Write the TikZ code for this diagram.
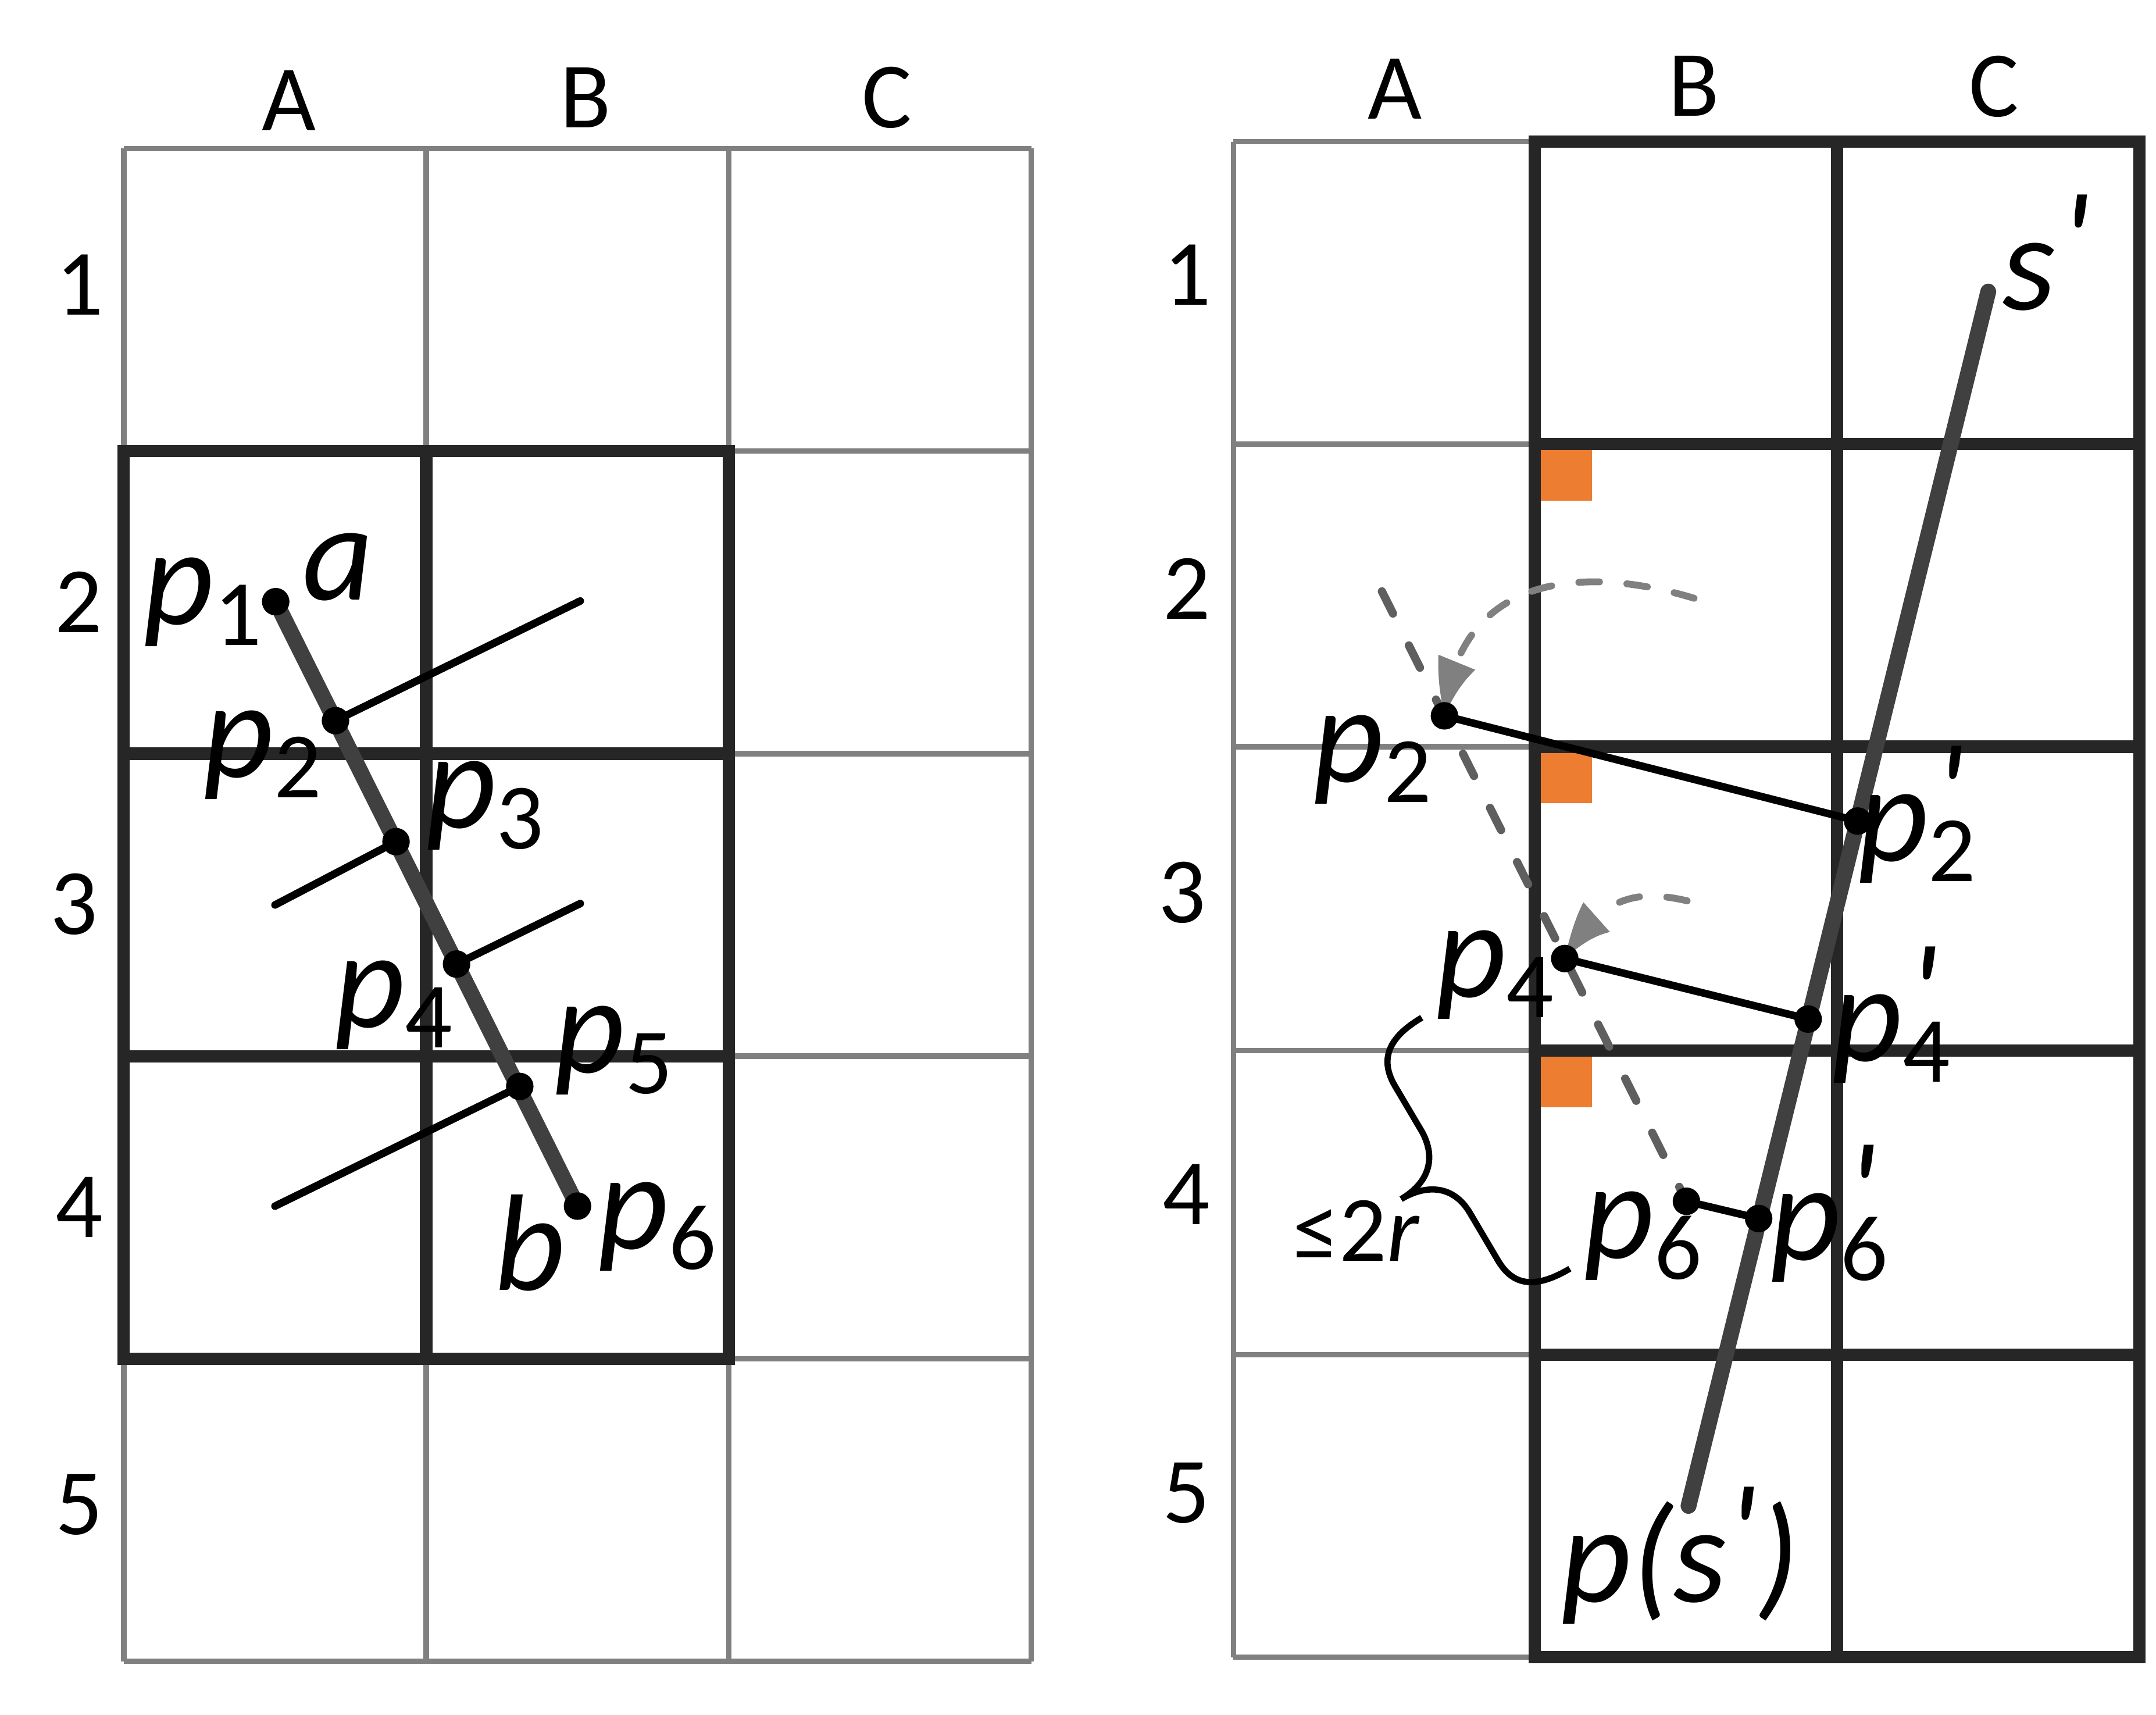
\documentclass[tikz,border=0pt]{standalone}
\usepackage{fontspec}
\setmainfont{Carlito}
\newfontfamily\prfont{Carlito}[Ligatures=TeXOff]
\usetikzlibrary{arrows.meta,bending}
\definecolor{thickc}{HTML}{262626}
\definecolor{thinc}{HTML}{808080}
\definecolor{segc}{HTML}{404040}
\definecolor{dashc}{HTML}{5F5F5F}
\definecolor{orangec}{HTML}{ED7D31}
\newcommand\bigf{\fontsize{100}{100}\selectfont}
\newcommand\labf{\fontsize{68}{68}\selectfont}
\newcommand\prm{\raisebox{16pt}{\prfont\itshape '}}
\newcommand\pv[1]{{\bigf\itshape p}\raisebox{-15pt}{\labf #1}}
\newcommand\pvp[1]{{\bigf\itshape p}\rlap{\bigf\kern4pt\prm}\raisebox{-15pt}{\labf #1}}
\begin{document}
\begin{tikzpicture}[x=1pt,y=-1pt,
  thinline/.style={draw=thinc,line width=4pt},
  thickline/.style={draw=thickc,line width=9pt},
  segline/.style={draw=segc,line width=11.5pt,line cap=round},
  blackline/.style={draw=black,line width=5.5pt,line cap=round},
  dot/.style={fill=black},
  dashline/.style={draw=dashc,line width=6pt,line cap=round,dash pattern=on 18pt off 26pt},
  curvearrow/.style={draw=thinc,line width=5pt,line cap=round,dash pattern=on 15pt off 20pt,
    -{Triangle[length=44pt,width=29pt,line width=0pt,bend]}},
  lab/.style={inner sep=0pt,font=\labf},
  var/.style={inner sep=0pt,anchor=base west}]
\fill[white] (0,0) rectangle (1568,1247);
\useasboundingbox (0,0) rectangle (1568,1247);
% ---------- left grid ----------
\foreach \x in {90,310,530,750} \draw[thinline] (\x,108) -- (\x,1208);
\foreach \y in {108,328,548,768,988,1208} \draw[thinline] (90,\y) -- (750,\y);
\draw[thickline] (90,328) rectangle (530,988);
\draw[thickline] (310,328) -- (310,988);
\foreach \y in {548,768} \draw[thickline] (90,\y) -- (530,\y);
% labels
\node[lab] (lA) at (210,73) {A};
\node[lab] (lB) at (426,71) {B};
\node[lab] (lC) at (645,71) {C};
\node[lab] (l1) at (58,207) {1};
\node[lab] (l2) at (57,437.6) {2};
\node[lab] (l3) at (54,657.6) {3};
\node[lab] (l4) at (57.7,877.7) {4};
\node[lab] (l5) at (57.8,1094) {5};
% points
\coordinate (p1) at (200.5,437.5);
\coordinate (p2) at (244,524);
\coordinate (p3) at (288,612);
\coordinate (p4) at (332,701);
\coordinate (p5) at (378,790);
\coordinate (p6) at (420,877);
\coordinate (q2) at (422,437);
\coordinate (q3) at (200,658);
\coordinate (q4) at (422,657);
\coordinate (q5) at (200,877);
\draw[segline] (p1) -- (p6);
\draw[blackline] (p2) -- (q2);
\draw[blackline] (q3) -- (p3);
\draw[blackline] (p4) -- (q4);
\draw[blackline] (q5) -- (p5);
\foreach \p in {p1,p2,p3,p4,p5,p6} \fill[dot] (\p) circle[radius=10pt];
\node[var] (tp1) at (104,454) {\pv{1}};
\node[var] (ta) at (220,436) {\bigf\itshape a};
\node[var] (tp2) at (147.6,565) {\pv{2}};
\node[var] (tp3) at (309.5,602) {\pv{3}};
\node[var] (tp4) at (243,747) {\pv{4}};
\node[var] (tp5) at (403,780) {\pv{5}};
\node[var] (tb) at (359.5,938) {\bigf\itshape b};
\node[var] (tp6) at (434.7,908) {\pv{6}};
% ---------- right grid ----------
\fill[orangec] (1120,327) rectangle (1158,364);
\fill[orangec] (1120,547) rectangle (1158,584);
\fill[orangec] (1120,768) rectangle (1158,805);
\foreach \x in {897,1116,1336,1556} \draw[thinline] (\x,103) -- (\x,1205);
\foreach \y in {103,323,543,764,985,1205} \draw[thinline] (897,\y) -- (1556,\y);
\draw[thickline] (1116,103) rectangle (1556,1205);
\draw[thickline] (1336,103) -- (1336,1205);
\foreach \y in {323,543,764,985} \draw[thickline] (1116,\y) -- (1556,\y);
\node[lab] (rA) at (1014.6,64.6) {A};
\node[lab] (rB) at (1231.7,62.5) {B};
\node[lab] (rC) at (1450,63) {C};
\node[lab] (r1) at (863.6,200) {1};
\node[lab] (r2) at (863,428) {2};
\node[lab] (r3) at (859.6,649) {3};
\node[lab] (r4) at (862.8,868.6) {4};
\node[lab] (r5) at (862.8,1085.5) {5};
% points
\coordinate (s0) at (1446,212);
\coordinate (s1) at (1228,1095);
\coordinate (d0) at (1005,430);
\coordinate (P2) at (1050.5,520.5);
\coordinate (P4) at (1138,697);
\coordinate (P6) at (1226.5,873.5);
\coordinate (Q2) at (1351,597);
\coordinate (Q4) at (1315,741);
\coordinate (Q6) at (1279,886);
\draw[dashline] (d0) -- (P6);
\draw[curvearrow] (1232,435) .. controls (1150,410) and (1060,418) .. (P2);
\draw[curvearrow] (1227,655) .. controls (1192,647) and (1165,650) .. (P4);
\draw[segline] (s0) -- (s1);
\draw[blackline] (P2) -- (Q2);
\draw[blackline] (P4) -- (Q4);
\draw[blackline] (P6) -- (Q6);
\foreach \p in {P2,P4,P6,Q2,Q4,Q6} \fill[dot] (\p) circle[radius=10pt];
% brace
\draw[black,line width=4.5pt] (1034,740) .. controls (1009.9,754.2) and (1002.9,770.0) .. (1014.6,789.8)
  -- (1034.4,823.3) .. controls (1045.2,843.6) and (1037.9,860.7) .. (1019.0,871.9)
  .. controls (1037.9,860.7) and (1057.3,862.1) .. (1069.0,881.9)
  -- (1089.3,916.3) .. controls (1100.9,936.1) and (1117.6,936.7) .. (1141.7,922.5);
\node[var,font=\labf] (le) at (940,917) {≤2\textit{r}};
\node[var] (ts) at (1456,225) {\bigf\itshape s\kern3pt\prm};
\node[var] (tP2) at (955,568.5) {\pv{2}};
\node[var] (tQ2) at (1351,626) {\pvp{2}};
\node[var] (tP4) at (1044,725) {\pv{4}};
\node[var] (tQ4) at (1332,771.7) {\pvp{4}};
\node[var] (tP6) at (1151.6,915) {\pv{6}};
\node[var] (tQ6) at (1287,916) {\pvp{6}};
\node[var] (tps) at (1135,1164.6) {\bigf\itshape p(s\prm)};
\end{tikzpicture}
\end{document}
